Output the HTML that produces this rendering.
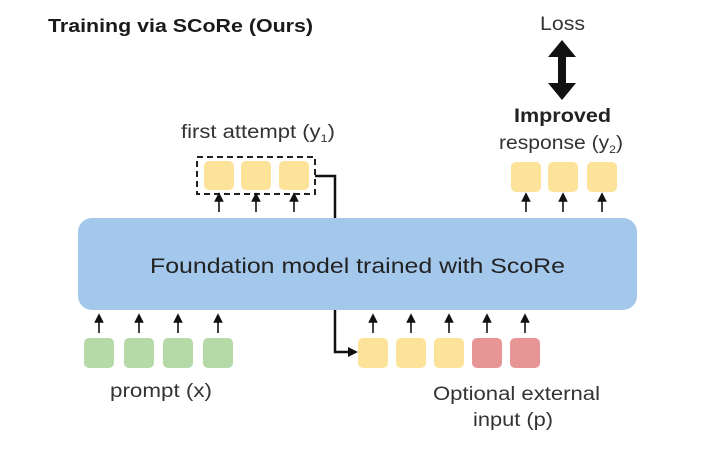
<!DOCTYPE html>
<html><head><meta charset="utf-8"><style>
html,body{margin:0;padding:0;background:#fff;}
svg{display:block;font-family:"Liberation Sans",sans-serif;}
</style></head><body>
<svg width="720" height="451" viewBox="0 0 720 451" xmlns="http://www.w3.org/2000/svg">
<defs>
<marker id="a" markerWidth="6" markerHeight="6" refX="3" refY="3" orient="auto"><path d="M0,0 L6,3 L0,6 z" fill="#111"/></marker>
</defs>
<text x="48" y="32" font-size="18" font-weight="bold" fill="#1a1a1a" textLength="265" lengthAdjust="spacingAndGlyphs">Training via SCoRe (Ours)</text>
<text x="540" y="30" font-size="19" fill="#333" textLength="45" lengthAdjust="spacingAndGlyphs">Loss</text>
<path d="M562,40 L576,57 L566,57 L566,83 L576,83 L562,100 L548,83 L558,83 L558,57 L548,57 z" fill="#111"/>
<text x="514" y="122" font-size="19" font-weight="bold" fill="#222" textLength="97" lengthAdjust="spacingAndGlyphs">Improved</text>
<text x="499" y="149" font-size="19" fill="#333" textLength="124" lengthAdjust="spacingAndGlyphs">response (y<tspan font-size="11" dy="4">2</tspan><tspan dy="-4">)</tspan></text>
<text x="181" y="138" font-size="19" fill="#333" textLength="154" lengthAdjust="spacingAndGlyphs">first attempt (y<tspan font-size="11" dy="4">1</tspan><tspan dy="-4">)</tspan></text>
<rect x="197" y="157" width="118" height="37" fill="none" stroke="#222" stroke-width="2" stroke-dasharray="6,4"/>
<g fill="#fde29a">
<rect x="204" y="161" width="30" height="29" rx="5"/><rect x="241" y="161" width="30" height="29" rx="5"/><rect x="279" y="161" width="30" height="29" rx="5"/>
<rect x="511" y="162" width="30" height="30" rx="5"/><rect x="548" y="162" width="30" height="30" rx="5"/><rect x="587" y="162" width="30" height="30" rx="5"/>
<rect x="358" y="338" width="30" height="30" rx="5"/><rect x="396" y="338" width="30" height="30" rx="5"/><rect x="434" y="338" width="30" height="30" rx="5"/>
</g>
<g fill="#e89596"><rect x="472" y="338" width="30" height="30" rx="5"/><rect x="510" y="338" width="30" height="30" rx="5"/></g>
<g fill="#b6d9a8"><rect x="84" y="338" width="30" height="30" rx="5"/><rect x="124" y="338" width="30" height="30" rx="5"/><rect x="163" y="338" width="30" height="30" rx="5"/><rect x="203" y="338" width="30" height="30" rx="5"/></g>
<rect x="78" y="218" width="559" height="92" rx="14" fill="#a4c8ec"/>
<text x="150" y="273" font-size="21" fill="#222" textLength="415" lengthAdjust="spacingAndGlyphs">Foundation model trained with ScoRe</text>
<g stroke="#111" stroke-width="1.6" marker-end="url(#a)">
<line x1="219" y1="212" x2="219" y2="197"/><line x1="256" y1="212" x2="256" y2="197"/><line x1="294" y1="212" x2="294" y2="197"/>
<line x1="526" y1="212" x2="526" y2="197"/><line x1="563" y1="212" x2="563" y2="197"/><line x1="602" y1="212" x2="602" y2="197"/>
<line x1="99" y1="333" x2="99" y2="318"/><line x1="139" y1="333" x2="139" y2="318"/><line x1="178" y1="333" x2="178" y2="318"/><line x1="218" y1="333" x2="218" y2="318"/>
<line x1="373" y1="333" x2="373" y2="318"/><line x1="411" y1="333" x2="411" y2="318"/><line x1="449" y1="333" x2="449" y2="318"/><line x1="487" y1="333" x2="487" y2="318"/><line x1="525" y1="333" x2="525" y2="318"/>
</g>
<polyline points="315,176 335,176 335,218" fill="none" stroke="#111" stroke-width="2.5"/>
<polyline points="335,310 335,352 350,352" fill="none" stroke="#111" stroke-width="2.5"/>
<path d="M348,347 L358,352 L348,357 z" fill="#111"/>
<text x="110" y="397" font-size="19" fill="#333" textLength="102" lengthAdjust="spacingAndGlyphs">prompt (x)</text>
<text x="433" y="400" font-size="19" fill="#333" textLength="167" lengthAdjust="spacingAndGlyphs">Optional external</text>
<text x="473" y="426" font-size="19" fill="#333" textLength="80" lengthAdjust="spacingAndGlyphs">input (p)</text>
</svg>
</body></html>
